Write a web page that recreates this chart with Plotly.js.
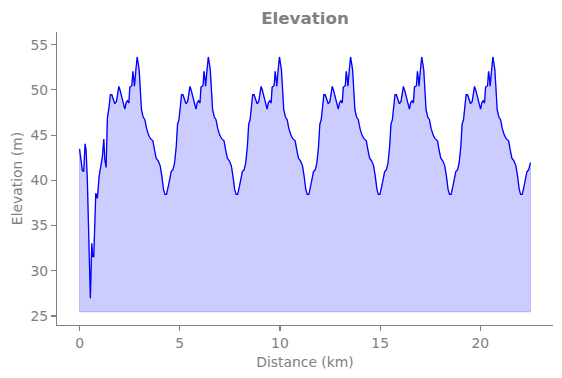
<!DOCTYPE html>
<html>
<head>
<meta charset="utf-8">
<script src="https://cdn.plot.ly/plotly-3.0.1.min.js"></script>
<style>html,body{margin:0;padding:0;background:#fff;}#chart{width:562px;height:378px;}</style>
</head>
<body>
<div id="chart"></div>
<script>
// Distance along the route (km)
const distanceKm = [
  0.000, 0.075, 0.140, 0.210, 0.275, 0.325, 0.390, 0.460, 0.540, 0.610, 0.660, 0.710, 0.760, 0.810, 0.890, 0.975, 1.060, 1.140, 1.210, 1.260, 1.325, 1.390,
  1.475, 1.540, 1.610, 1.675, 1.760, 1.840, 1.890, 1.960, 2.025, 2.090, 2.175, 2.260, 2.325, 2.390, 2.460, 2.510, 2.610, 2.660, 2.710, 2.740, 2.810,
  2.875, 2.975, 3.040, 3.090, 3.175, 3.260, 3.340, 3.440, 3.540, 3.660, 3.740, 3.825, 3.925, 4.025, 4.110, 4.190, 4.260, 4.340, 4.425, 4.510, 4.575, 4.660, 4.740, 4.825, 4.890, 4.960, 5.025, 5.090, 5.160, 5.225, 5.310, 5.390, 5.440, 5.510, 5.575, 5.640, 5.725, 5.810, 5.875, 5.940, 6.010, 6.060, 6.160, 6.210, 6.260, 6.290, 6.360,
  6.425, 6.525, 6.590, 6.640, 6.725, 6.810, 6.890, 6.990, 7.090, 7.210, 7.290, 7.375, 7.475, 7.575, 7.660, 7.740, 7.810, 7.890, 7.975, 8.060, 8.125, 8.210, 8.290, 8.375, 8.440, 8.510, 8.575, 8.640, 8.710, 8.775, 8.860, 8.940, 8.990, 9.060, 9.125, 9.190, 9.275, 9.360, 9.425, 9.490, 9.560, 9.610, 9.710, 9.760, 9.810, 9.840, 9.910,
  9.975, 10.075, 10.140, 10.190, 10.275, 10.360, 10.440, 10.540, 10.640, 10.760, 10.840, 10.925, 11.025, 11.125, 11.210, 11.290, 11.360, 11.440, 11.525, 11.610, 11.675, 11.760, 11.840, 11.925, 11.990, 12.060, 12.125, 12.190, 12.260, 12.325, 12.410, 12.490, 12.540, 12.610, 12.675, 12.740, 12.825, 12.910, 12.975, 13.040, 13.110, 13.160, 13.260, 13.310, 13.360, 13.390, 13.460,
  13.525, 13.625, 13.690, 13.740, 13.825, 13.910, 13.990, 14.090, 14.190, 14.310, 14.390, 14.475, 14.575, 14.675, 14.760, 14.840, 14.910, 14.990, 15.075, 15.160, 15.225, 15.310, 15.390, 15.475, 15.540, 15.610, 15.675, 15.740, 15.810, 15.875, 15.960, 16.040, 16.090, 16.160, 16.225, 16.290, 16.375, 16.460, 16.525, 16.590, 16.660, 16.710, 16.810, 16.860, 16.910, 16.940, 17.010,
  17.075, 17.175, 17.240, 17.290, 17.375, 17.460, 17.540, 17.640, 17.740, 17.860, 17.940, 18.025, 18.125, 18.225, 18.310, 18.390, 18.460, 18.540, 18.625, 18.710, 18.775, 18.860, 18.940, 19.025, 19.090, 19.160, 19.225, 19.290, 19.360, 19.425, 19.510, 19.590, 19.640, 19.710, 19.775, 19.840, 19.925, 20.010, 20.075, 20.140, 20.210, 20.260, 20.360, 20.410, 20.460, 20.490, 20.560,
  20.625, 20.725, 20.790, 20.840, 20.925, 21.010, 21.090, 21.190, 21.290, 21.410, 21.490, 21.575, 21.675, 21.775, 21.860, 21.940, 22.010, 22.090, 22.175, 22.260, 22.325, 22.410, 22.500
];

// Elevation (m)
const elevationM = [
  43.48, 42.08, 41.08, 40.97, 44.04, 43.37, 40.05, 33.77, 26.95, 33.04, 31.56, 31.56, 35.99, 38.58, 38.02, 40.42, 41.53, 42.64, 44.56, 42.27, 41.42, 46.88,
  48.17, 49.46, 49.46, 49.00, 48.47, 48.70, 49.65, 50.38, 49.94, 49.35, 48.70, 47.88, 48.60, 48.80, 48.54, 50.30, 50.46, 52.05, 51.20, 50.40, 52.20,
  53.64, 52.23, 50.00, 47.80, 47.00, 46.70, 45.77, 45.03, 44.60, 44.37, 43.37, 42.45, 42.15, 41.60, 40.40, 39.00, 38.45, 38.45, 39.30, 40.40, 40.97, 41.16, 41.90, 43.74, 46.20, 46.70, 48.17, 49.46, 49.46, 49.00, 48.47, 48.70, 49.65, 50.38, 49.94, 49.35, 48.70, 47.88, 48.60, 48.80, 48.54, 50.30, 50.46, 52.05, 51.20, 50.40, 52.20,
  53.64, 52.23, 50.00, 47.80, 47.00, 46.70, 45.77, 45.03, 44.60, 44.37, 43.37, 42.45, 42.15, 41.60, 40.40, 39.00, 38.45, 38.45, 39.30, 40.40, 40.97, 41.16, 41.90, 43.74, 46.20, 46.70, 48.17, 49.46, 49.46, 49.00, 48.47, 48.70, 49.65, 50.38, 49.94, 49.35, 48.70, 47.88, 48.60, 48.80, 48.54, 50.30, 50.46, 52.05, 51.20, 50.40, 52.20,
  53.64, 52.23, 50.00, 47.80, 47.00, 46.70, 45.77, 45.03, 44.60, 44.37, 43.37, 42.45, 42.15, 41.60, 40.40, 39.00, 38.45, 38.45, 39.30, 40.40, 40.97, 41.16, 41.90, 43.74, 46.20, 46.70, 48.17, 49.46, 49.46, 49.00, 48.47, 48.70, 49.65, 50.38, 49.94, 49.35, 48.70, 47.88, 48.60, 48.80, 48.54, 50.30, 50.46, 52.05, 51.20, 50.40, 52.20,
  53.64, 52.23, 50.00, 47.80, 47.00, 46.70, 45.77, 45.03, 44.60, 44.37, 43.37, 42.45, 42.15, 41.60, 40.40, 39.00, 38.45, 38.45, 39.30, 40.40, 40.97, 41.16, 41.90, 43.74, 46.20, 46.70, 48.17, 49.46, 49.46, 49.00, 48.47, 48.70, 49.65, 50.38, 49.94, 49.35, 48.70, 47.88, 48.60, 48.80, 48.54, 50.30, 50.46, 52.05, 51.20, 50.40, 52.20,
  53.64, 52.23, 50.00, 47.80, 47.00, 46.70, 45.77, 45.03, 44.60, 44.37, 43.37, 42.45, 42.15, 41.60, 40.40, 39.00, 38.45, 38.45, 39.30, 40.40, 40.97, 41.16, 41.90, 43.74, 46.20, 46.70, 48.17, 49.46, 49.46, 49.00, 48.47, 48.70, 49.65, 50.38, 49.94, 49.35, 48.70, 47.88, 48.60, 48.80, 48.54, 50.30, 50.46, 52.05, 51.20, 50.40, 52.20,
  53.64, 52.23, 50.00, 47.80, 47.00, 46.70, 45.77, 45.03, 44.60, 44.37, 43.37, 42.45, 42.15, 41.60, 40.40, 39.00, 38.45, 38.45, 39.30, 40.40, 40.97, 41.16, 41.95
];

// Level the shaded area goes down to (m)
const baseElevation = 25.45;

const xTicks = [0, 5, 10, 15, 20];
const yTicks = [25, 30, 35, 40, 45, 50, 55];

const textGray = '#808080';
const fontFam = 'DejaVu Sans, sans-serif';

// Shaded polygon: profile then back along the base level
const lastX = distanceKm[distanceKm.length - 1];
const firstX = distanceKm[0];
const polyX = distanceKm.concat([lastX, firstX, firstX]);
const polyY = elevationM.concat([baseElevation, baseElevation, elevationM[0]]);

const traces = [
  {
    x: polyX, y: polyY, type: 'scatter', mode: 'lines',
    fill: 'toself', fillcolor: 'rgba(0,0,255,0.2)',
    line: {color: 'rgba(0,0,255,0.2)', width: 1},
    hoverinfo: 'skip', showlegend: false
  },
  {
    x: distanceKm, y: elevationM, type: 'scatter', mode: 'lines',
    line: {color: '#0000ff', width: 1.3},
    showlegend: false
  }
];

const axisCommon = {
  showline: true, linecolor: textGray, linewidth: 1.1,
  ticks: 'outside', ticklen: 5, tickwidth: 1.1, tickcolor: textGray,
  tickfont: {family: fontFam, size: 13.9, color: textGray},
  showgrid: false, zeroline: false, mirror: false, automargin: false
};

const layout = {
  width: 562, height: 378,
  margin: {l: 57, r: 9, t: 32, b: 53, pad: 0},
  paper_bgcolor: '#ffffff', plot_bgcolor: '#ffffff',
  title: {
    text: 'Elevation',
    font: {family: fontFam, size: 16.7, color: textGray, weight: 'bold'},
    x: 0.5, xref: 'paper', xanchor: 'center',
    y: 1 - 18 / 378, yref: 'container', yanchor: 'middle'
  },
  xaxis: Object.assign({}, axisCommon, {
    range: [-1.125, 23.625],
    tickmode: 'array', tickvals: xTicks, ticktext: xTicks.map(String),
    title: {text: 'Distance (km)', font: {family: fontFam, size: 13.9, color: textGray}, standoff: 7}
  }),
  yaxis: Object.assign({}, axisCommon, {
    range: [24.0, 56.4],
    tickmode: 'array', tickvals: yTicks, ticktext: yTicks.map(String),
    title: {text: 'Elevation (m)', font: {family: fontFam, size: 13.9, color: textGray}, standoff: 4}
  }),
  showlegend: false
};

Plotly.newPlot('chart', traces, layout, {displayModeBar: false, staticPlot: true});
</script>
</body>
</html>
